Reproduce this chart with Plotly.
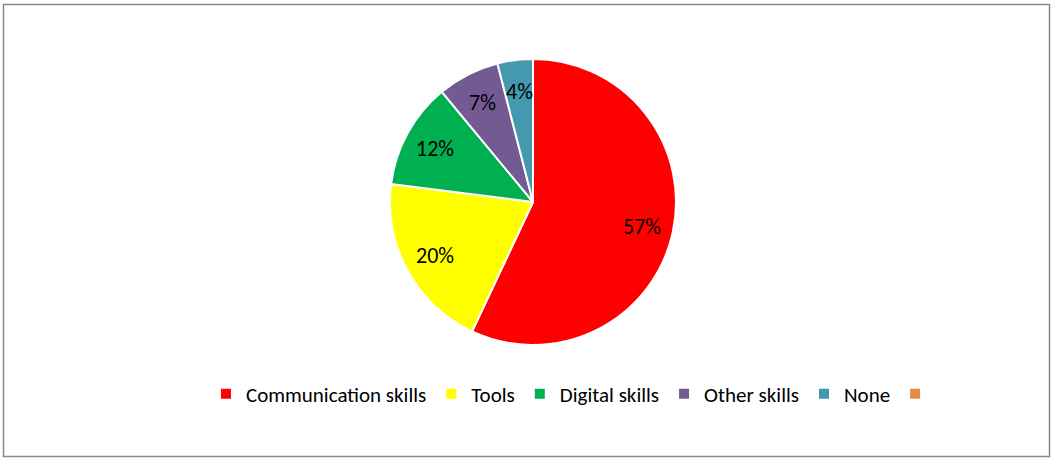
import math
import plotly.graph_objects as go

W, H = 1053, 459

# Share of responses per skill category (percent)
categories = ["Communication skills", "Tools", "Digital skills", "Other skills", "None", " "]
shares = [57, 20, 12, 7, 4, 0]
colors = ["#FF0000", "#FFFF00", "#00B050", "#735A92", "#4499B0", "#E08C47"]

FONT = "Calibri, Carlito, Lato, sans-serif"

# Pie placement in pixels (centre and radius)
cx, cy, r = 533, 202, 143
label_radius = 0.78 * r

fig = go.Figure(
    go.Pie(
        labels=categories,
        values=shares,
        sort=False,
        direction="clockwise",
        rotation=0,
        marker=dict(colors=colors, line=dict(color="white", width=2)),
        textinfo="none",
        hoverinfo="label+percent",
        domain=dict(
            x=[(cx - r) / W, (cx + r) / W],
            y=[1 - (cy + r) / H, 1 - (cy - r) / H],
        ),
    )
)

# Percentage labels placed at each slice's mid-angle, derived from the shares
total = sum(shares)
annotations = []
cum = 0
for v in shares:
    if v > 0:
        theta = 2 * math.pi * (cum + v / 2) / total
        px = cx + label_radius * math.sin(theta)
        py = cy - label_radius * math.cos(theta)
        annotations.append(
            dict(
                x=px / W,
                y=1 - py / H,
                xref="paper",
                yref="paper",
                text=f"{round(100 * v / total)}%",
                showarrow=False,
                xanchor="center",
                yanchor="middle",
                font=dict(family=FONT, size=22, color="#000000"),
            )
        )
    cum += v

fig.update_layout(
    width=W,
    height=H,
    margin=dict(l=0, r=0, t=0, b=0),
    paper_bgcolor="white",
    plot_bgcolor="white",
    font=dict(family=FONT, size=21, color="#000000"),
    showlegend=True,
    legend=dict(
        orientation="h",
        x=0.5465,
        xanchor="center",
        y=1 - 394 / H,
        yanchor="middle",
        font=dict(family=FONT, size=21, color="#000000"),
        itemwidth=30,
        traceorder="normal",
    ),
    annotations=annotations,
    shapes=[
        dict(
            type="rect",
            xref="paper",
            yref="paper",
            x0=3.5 / W,
            x1=1049.5 / W,
            y0=1 - 456.5 / H,
            y1=1 - 4.5 / H,
            line=dict(color="#898989", width=1.5),
            fillcolor="rgba(0,0,0,0)",
        )
    ],
)

fig.write_html("out.html")
